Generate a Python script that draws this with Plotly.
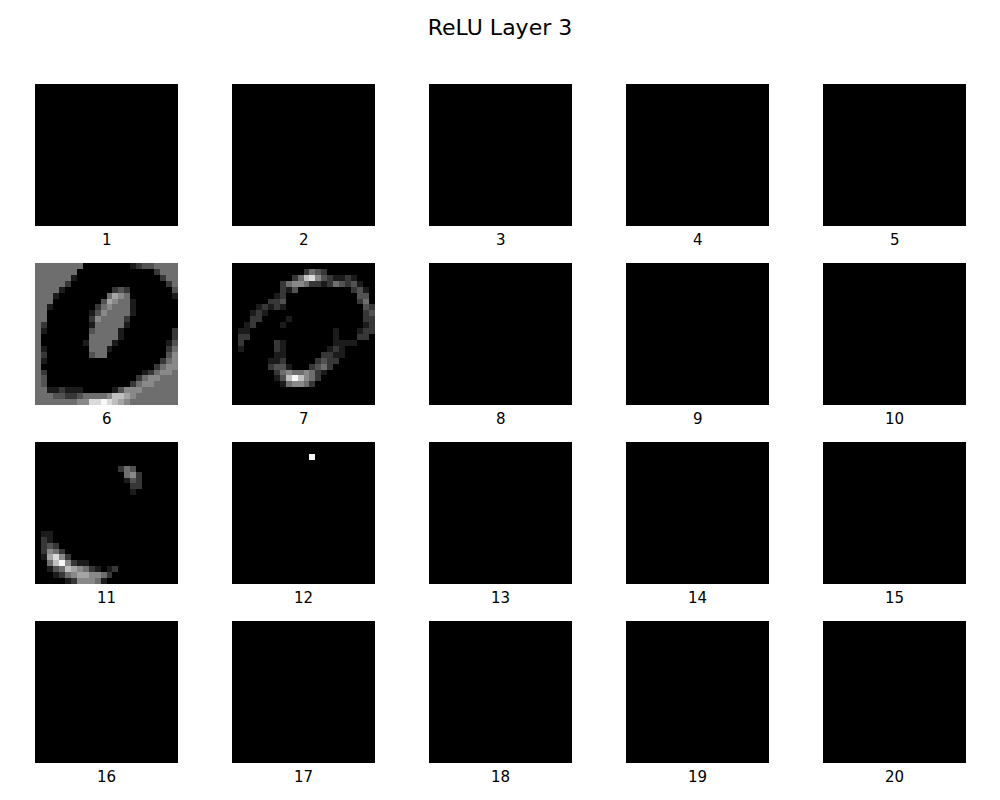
import numpy as np
import plotly.graph_objects as go

title = "ReLU Layer 3"
n_maps = 20
n_cols = 5
size = 24

# feature map brightness, 0 (black) .. 9 (white), one string per row
map_6 = [
    "444444440000000012334444",
    "444444400000000000002444",
    "444444100000000000000244",
    "444442000000000000000024",
    "444410000000023200000003",
    "444100000000465400000001",
    "444000000003654410000000",
    "441000000024544410000000",
    "440000000135444410000000",
    "440000000254444200000000",
    "420000000144444100000000",
    "410000000344441000000002",
    "400000000444441000000002",
    "400000001444410000000013",
    "410000000444100000000024",
    "420000000344000000000035",
    "410000000000000000000245",
    "400000000000000000002455",
    "420000000000000000124554",
    "430000000000000002455444",
    "430000000000000024554444",
    "441121110000013555444444",
    "444332234444577654444444",
    "444444455889876544444444",
]
map_7 = [
    "000000000000000000000000",
    "000000000000243200000000",
    "000000000024785321121000",
    "000000002455422124323100",
    "000000002130000000002310",
    "000000012000000000000330",
    "000000223000000000000240",
    "000012121000000000000032",
    "000121000000000000000023",
    "000220000100000000000022",
    "001200001000000000000012",
    "011000000000000001000122",
    "022000000000000001000220",
    "020000021000000001111000",
    "010000021000000012100000",
    "000000011000000221100000",
    "000000112000002322000000",
    "000000233100023420000000",
    "000000024544542100000000",
    "000000013797542000000000",
    "000000001455420000000000",
    "000000000000000000000000",
    "000000000000000000000000",
    "000000000000000000000000",
]
map_11 = [
    "000000000000000000000000",
    "000000000000000000000000",
    "000000000000000000000000",
    "000000000000000000000000",
    "000000000000002430000000",
    "000000000000000452000000",
    "000000000000000132000000",
    "000000000000000022000000",
    "000000000000000010000000",
    "000000000000000000000000",
    "000000000000000000000000",
    "000000000000000000000000",
    "000000000000000000000000",
    "000000000000000000000000",
    "000000000000000000000000",
    "011000000000000000000000",
    "021000000000000000000000",
    "023200000000000000000000",
    "025420000000000000000000",
    "016852000000000000000000",
    "004795211000000000000000",
    "001347654210120000000000",
    "000124566554200000000000",
    "000001255541000000000000",
]
# map 12 has a single bright pixel (row, col)
map_12_pixel = (2, 13)


def parse(rows):
    return np.array([[int(c) for c in r] for r in rows], dtype=float)


maps = {i: np.zeros((size, size)) for i in range(1, n_maps + 1)}
maps[6] = parse(map_6)
maps[7] = parse(map_7)
maps[11] = parse(map_11)
maps[12][map_12_pixel] = 9

W, H = 1000, 800
off = 8  # page body margin pushes the figure right/down
col_left = [35, 232, 429, 626, 823]
row_top = [84, 263, 442, 621]
pw, ph = 143, 142

fig = go.Figure()
for k in range(1, n_maps + 1):
    r, c = divmod(k - 1, n_cols)
    left = col_left[c] - off
    top = row_top[r] - off
    ax = "" if k == 1 else str(k)
    fig.add_trace(go.Heatmap(
        z=maps[k], zmin=0, zmax=9.3,
        colorscale=[[0, "black"], [1, "white"]],
        showscale=False, hoverinfo="skip",
        xaxis="x" + ax, yaxis="y" + ax,
    ))
    fig.layout["xaxis" + ax] = dict(domain=[left / W, (left + pw) / W],
                                    range=[-0.5, size - 0.5],
                                    visible=False, anchor="y" + ax)
    fig.layout["yaxis" + ax] = dict(domain=[1 - (top + ph) / H, 1 - top / H],
                                    range=[size - 0.5, -0.5],
                                    visible=False, anchor="x" + ax)
    fig.add_annotation(text=str(k), xref="paper", yref="paper",
                       x=(left + pw / 2) / W,
                       y=1 - (top + ph + 14) / H,
                       showarrow=False, xanchor="center", yanchor="middle",
                       font=dict(size=15, color="black"))

fig.update_layout(
    width=W, height=H,
    margin=dict(l=0, r=0, t=0, b=0),
    paper_bgcolor="white", plot_bgcolor="white",
    font=dict(family="DejaVu Sans"),
    title=dict(text=title, x=(500 - off) / W, xanchor="center",
               y=1 - (27 - off) / H, yanchor="middle",
               font=dict(size=22, color="black")),
)

fig.write_html("out.html")
